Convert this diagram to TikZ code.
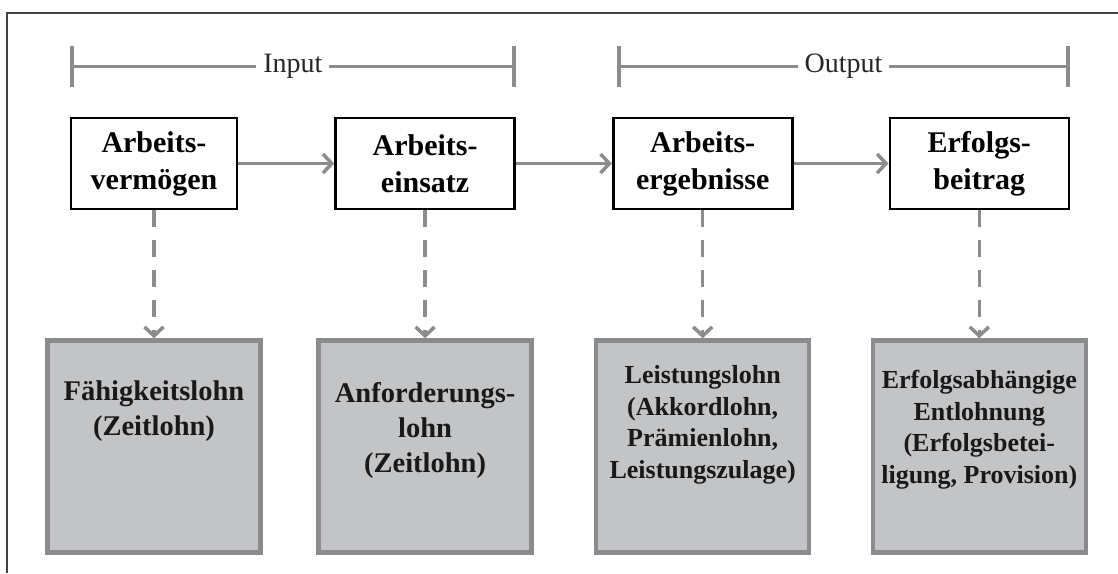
\documentclass[tikz,border=0pt]{standalone}
\usepackage{fontspec}
\setmainfont{Liberation Serif}
\usetikzlibrary{positioning,arrows.meta}
\definecolor{linegray}{HTML}{8C8C8C}
\definecolor{boxfill}{HTML}{C3C4C6}
\definecolor{boxedge}{HTML}{8B8B8D}
\definecolor{framegray}{HTML}{444444}

\begin{document}
\begin{tikzpicture}[x=1pt, y=-1pt,
 stage/.style = {shape=rectangle, draw=black, line width=2.6pt, minimum width=179pt,
   minimum height=91pt, inner sep=0pt, align=center, font=\bfseries\fontsize{30}{37}\selectfont},
 pay/.style = {shape=rectangle, draw=boxedge, fill=boxfill, line width=4.5pt,
   minimum width=213pt, minimum height=212pt},
 paytext/.style = {anchor=north, inner sep=0pt, align=center, text=black!90,
   font=\bfseries\fontsize{28.5}{35}\selectfont},
 small/.style = {font=\bfseries\fontsize{26}{31.5}\selectfont},
 flow/.style = {draw=linegray, line width=3.5pt, -{Straight Barb[length=9pt, width=19pt]}},
 feed/.style = {flow, dash pattern=on 17pt off 13pt},
 span/.style = {draw=linegray, line width=3.5pt,
   {Bar[width=41pt, line width=4pt]}-{Bar[width=41pt, line width=4pt]}},
 spanlabel/.style = {fill=white, inner sep=7pt, text=black!85, font=\fontsize{28}{34}\selectfont}]
 \useasboundingbox (0,0) rectangle (1118,573);
 \draw[framegray, line width=2pt] (7,573) -- (7,13) -- (1118,13);

 \node[stage, minimum width=166pt] (vermoegen) at (154,163.5) {Arbeits-\\vermögen};
 \node[stage, right=96pt of vermoegen] (einsatz) {Arbeits-\\einsatz};
 \node[stage, right=96pt of einsatz] (ergebnis) {Arbeits-\\ergebnisse};
 \node[stage, right=95pt of ergebnis] (beitrag) {Erfolgs-\\beitrag};

 \node[pay, below=128pt of vermoegen] (faehig) {};
 \node[pay, below=128pt of einsatz] (anford) {};
 \node[pay, below=128pt of ergebnis] (leistung) {};
 \node[pay, below=128pt of beitrag] (erfolg) {};

 \node[paytext] (faehig-t) at ([yshift=-42pt]faehig.north) {Fähigkeitslohn\\(Zeitlohn)};
 \node[paytext] (anford-t) at ([yshift=-44pt]anford.north) {Anforderungs-\\lohn\\(Zeitlohn)};
 \node[paytext, small] (leistung-t) at ([yshift=-27pt]leistung.north)
   {Leistungslohn\\(Akkordlohn,\\Prämienlohn,\\Leistungszulage)};
 \node[paytext, small] (erfolg-t) at ([yshift=-32pt]erfolg.north)
   {Erfolgsabhängige\\Entlohnung\\(Erfolgsbetei-\\ligung, Provision)};

 \draw[flow] (vermoegen) -- (einsatz);
 \draw[flow] (einsatz) -- (ergebnis);
 \draw[flow] (ergebnis) -- (beitrag);

 \draw[feed] (vermoegen) -- (faehig);
 \draw[feed] (einsatz) -- (anford);
 \draw[feed] (ergebnis) -- (leistung);
 \draw[feed] (beitrag) -- (erfolg);

 \coordinate (in-l) at ([yshift=50pt]vermoegen.north west);
 \coordinate (in-r) at ([yshift=50pt]einsatz.north east);
 \coordinate (out-l) at ([xshift=5pt, yshift=50pt]ergebnis.north west);
 \coordinate (out-r) at ([yshift=50pt]beitrag.north east);
 \draw[span] (in-l) -- node[spanlabel] (input) {Input} (in-r);
 \draw[span] (out-l) -- node[spanlabel] (output) {Output} (out-r);
\end{tikzpicture}
\end{document}
